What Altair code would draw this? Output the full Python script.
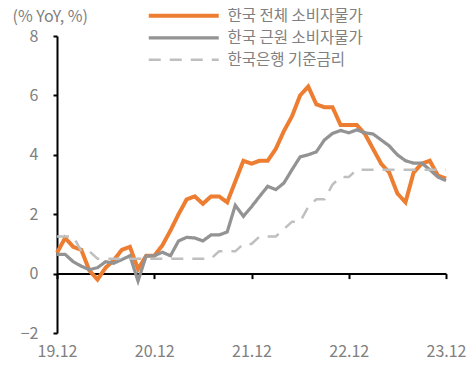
import altair as alt
import pandas as pd

months = ["19.12",
          "20.01", "20.02", "20.03", "20.04", "20.05", "20.06", "20.07", "20.08", "20.09", "20.10", "20.11", "20.12",
          "21.01", "21.02", "21.03", "21.04", "21.05", "21.06", "21.07", "21.08", "21.09", "21.10", "21.11", "21.12",
          "22.01", "22.02", "22.03", "22.04", "22.05", "22.06", "22.07", "22.08", "22.09", "22.10", "22.11", "22.12",
          "23.01", "23.02", "23.03", "23.04", "23.05", "23.06", "23.07", "23.08", "23.09", "23.10", "23.11", "23.12"]

cpi = [0.7, 1.2, 0.9, 0.8, 0.1, -0.2, 0.2, 0.45, 0.8, 0.9, 0.15, 0.6, 0.6,
       0.95, 1.45, 2.0, 2.5, 2.6, 2.35, 2.6, 2.6, 2.4, 3.1, 3.8, 3.7,
       3.8, 3.8, 4.2, 4.8, 5.3, 6.0, 6.3, 5.7, 5.6, 5.6, 5.0, 5.0,
       5.0, 4.7, 4.2, 3.7, 3.4, 2.7, 2.4, 3.4, 3.7, 3.8, 3.3, 3.2]

core = [0.65, 0.65, 0.4, 0.25, 0.13, 0.2, 0.4, 0.35, 0.47, 0.6, -0.25, 0.6, 0.6,
        0.72, 0.6, 1.1, 1.22, 1.2, 1.1, 1.3, 1.3, 1.4, 2.3, 1.93, 2.25,
        2.6, 2.94, 2.83, 3.05, 3.5, 3.93, 4.0, 4.1, 4.5, 4.72, 4.82, 4.74,
        4.84, 4.74, 4.7, 4.5, 4.3, 4.0, 3.8, 3.72, 3.72, 3.5, 3.25, 3.13]

rate = [1.25, 1.25, 1.25, 0.75, 0.75, 0.5, 0.5, 0.5, 0.5, 0.5, 0.5, 0.5, 0.5,
        0.5, 0.5, 0.5, 0.5, 0.5, 0.5, 0.5, 0.75, 0.75, 0.75, 1.0, 1.0,
        1.25, 1.25, 1.25, 1.5, 1.75, 1.75, 2.25, 2.5, 2.5, 3.0, 3.25, 3.25,
        3.5, 3.5, 3.5, 3.5, 3.5, 3.5, 3.5, 3.5, 3.5, 3.5, 3.5, 3.5]

series_names = ["한국 전체 소비자물가", "한국 근원 소비자물가", "한국은행 기준금리"]
tick_labels = ["19.12", "20.12", "21.12", "22.12", "23.12"]
y_ticks = [-2, 0, 2, 4, 6, 8]

rows = []
for name, vals in zip(series_names, [cpi, core, rate]):
    for m, v in zip(months, vals):
        rows.append({"month": m, "value": v, "series": name})
df = pd.DataFrame(rows)

FONT = "Noto Sans CJK KR"
TXT = "#808080"
W, H = 389, 297
zero_offset = -H * (0 - (-2)) / (8 - (-2))

xscale = alt.Scale(type="point", padding=0, domain=months)

lines = alt.Chart(df).mark_line(strokeJoin="miter").encode(
    x=alt.X("month:O", sort=months, scale=xscale,
            axis=alt.Axis(orient="bottom", values=tick_labels, labels=False, title=None,
                          domainColor="black", domainWidth=2, tickColor="black",
                          tickWidth=2, tickSize=5, offset=zero_offset, grid=False)),
    y=alt.Y("value:Q", scale=alt.Scale(domain=[-2, 8], nice=False),
            axis=alt.Axis(values=y_ticks, grid=False, domainColor="black", domainWidth=2,
                          tickColor="black", tickWidth=2, tickSize=4,
                          labelFont=FONT, labelFontSize=16, labelColor=TXT, labelPadding=15,
                          title="(% YoY, %)", titleAngle=0, titleAlign="left",
                          titleBaseline="middle", titleX=-45, titleY=-20,
                          titleFont=FONT, titleFontSize=16, titleColor=TXT,
                          titleFontWeight="normal")),
    color=alt.Color("series:N", scale=alt.Scale(domain=series_names,
                                                 range=["#ED7D31", "#939393", "#BFBFBF"]),
                    legend=alt.Legend(title=None, orient="none", legendX=119, legendY=-28,
                                      symbolType="M-7,0H7", symbolSize=100,
                                      labelFont=FONT, labelFontSize=15.5, labelColor=TXT,
                                      labelOffset=36, rowPadding=5, padding=0)),
    strokeDash=alt.StrokeDash("series:N", scale=alt.Scale(domain=series_names,
                                                           range=[[1, 0], [1, 0], [12, 9]])),
    strokeWidth=alt.StrokeWidth("series:N", scale=alt.Scale(domain=series_names,
                                                             range=[4, 2.5, 4])),
)

labels_axis = alt.Chart(df).mark_point(opacity=0).encode(
    x=alt.X("month:O", sort=months, scale=xscale,
            axis=alt.Axis(orient="bottom", values=tick_labels, domain=False, ticks=False,
                          labelAngle=0, labelAlign="center",
                          labelFont=FONT, labelFontSize=16, labelColor=TXT,
                          labelPadding=10, title=None, grid=False)),
)

chart = alt.layer(labels_axis, lines).resolve_axis(x="independent").properties(
    width=W, height=H,
    autosize=alt.AutoSizeParams(type="none"),
    padding={"left": 49, "top": 28, "right": 20, "bottom": 30},
).configure_view(stroke=None)

chart.save("out.html", embed_options={"renderer": "svg", "actions": False})
